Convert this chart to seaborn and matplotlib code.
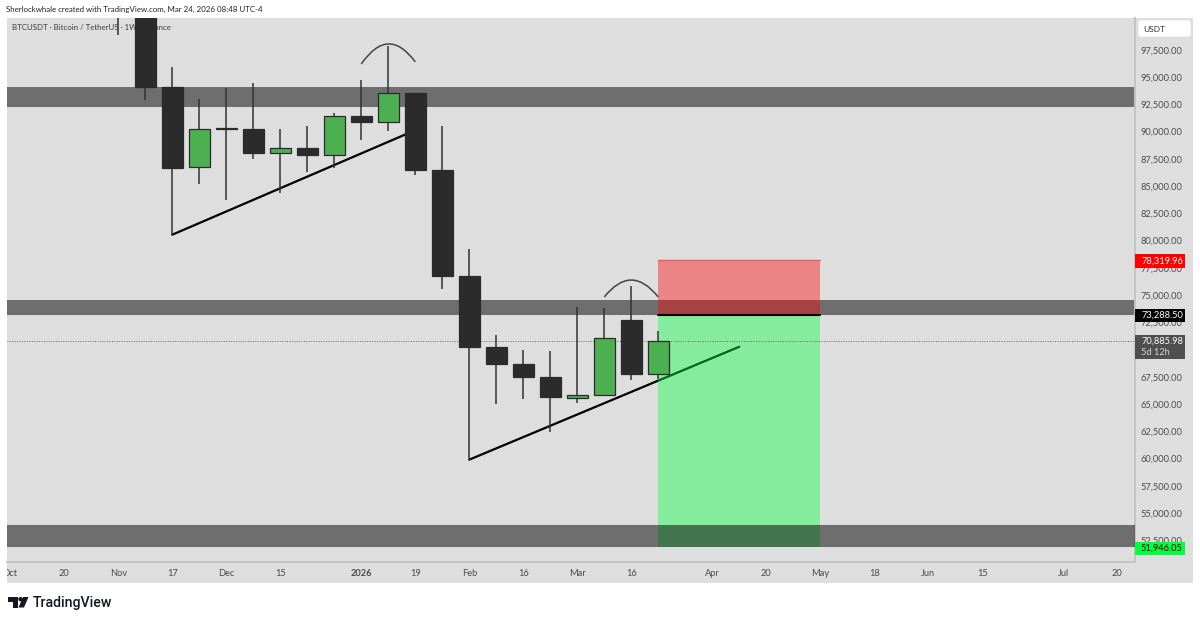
import matplotlib
matplotlib.use("Agg")
import matplotlib.pyplot as plt
from matplotlib.patches import PathPatch, Rectangle, FancyBboxPatch, Polygon
from matplotlib.path import Path
from matplotlib.transforms import Bbox
import numpy as np
import pandas as pd
import seaborn as sns

# ---- data ----
weeks  = [-1, 0, 1, 2, 3, 4, 5, 6, 7, 8, 9, 10, 11, 12, 13, 14, 15, 16, 17, 18, 19]
opens  = [110000, 102000, 94200, 86800, 90400, 90350, 88100, 88600, 87900, 91490, 91000, 93650, 86580, 76860, 70300, 68780, 67590, 65620, 65900, 72770, 67820]
closes = [102000, 94200, 86770, 90340, 90350, 88100, 88600, 87900, 91490, 90990, 93650, 86580, 76860, 70300, 68780, 67590, 65710, 65900, 71120, 67820, 70886]
highs  = [112000, 104000, 96030, 93100, 94100, 94560, 90350, 90620, 91810, 94840, 97910, 93650, 90620, 79310, 71440, 70070, 69980, 74010, 73920, 75940, 71810]
lows   = [98950, 93000, 80620, 85300, 83830, 87550, 84470, 86400, 86770, 89290, 90160, 86080, 75670, 59980, 65110, 65570, 62500, 65210, 65800, 67320, 67410]

bands = [(92360, 94200), (73288.5, 74610), (51946.05, 53970)]
trend_a_x = [1, 9.9]; trend_a_y = [80620, 90100]
trend_b_x = [12, 22]; trend_b_y = [59980, 70340]
arc_a_x = [8, 9, 10]; arc_a_y = [96280, 99865, 96470]
arc_b_x = [17, 18, 19]; arc_b_y = [74900, 78020, 74900]
box_x = [19, 25]
entry, stop, target = 73288.50, 78319.96, 51946.05
last_price = 70885.98

# 70,000 sits wholly behind the last-price tag in the reference, so it is not listed
y_ticks = [97500, 95000, 92500, 90000, 87500, 85000, 82500, 80000, 77500, 75000, 72500,
           67500, 65000, 62500, 60000, 57500, 55000, 52500]
x_ticks = [-5, -3, -1, 1, 3, 5, 8, 10, 12, 14, 16, 18, 21, 23, 25, 27, 29, 31, 34, 36]
x_labels = ["Oct", "20", "Nov", "17", "Dec", "15", "2026", "19", "Feb", "16", "Mar", "16",
            "Apr", "20", "May", "18", "Jun", "15", "Jul", "20"]

TEXT = "#4a4a4a"; BG = "#dedede"; DARK = "#2b2b2b"; GREEN = "#4caf50"
W, H = 1200, 622
sns.set_theme(style="white")
plt.rcParams["font.family"] = ["Lato", "DejaVu Sans"]

fig = plt.figure(figsize=(W / 100, H / 100), dpi=100, facecolor="white")
def fig_rect(l, t, r, b):
    return [l / W, 1 - b / H, (r - l) / W, (b - t) / H]

# grey frame of price and time scales
frame = fig.add_axes(fig_rect(7, 18, 1193, 583), zorder=0)
frame.set_facecolor(BG); frame.set_xticks([]); frame.set_yticks([])
for s in frame.spines.values():
    s.set_visible(False)

ax = fig.add_axes(fig_rect(7, 18, 1134.5, 562), zorder=1)
ax.set_facecolor(BG)

df = pd.DataFrame({"week": weeks, "o": opens, "c": closes, "h": highs, "l": lows})
df["body"] = (df.c - df.o).abs()
df["bottom"] = df[["o", "c"]].min(axis=1)
up = df[df.c >= df.o]; dn = df[df.c < df.o]

ax.vlines(df.week, df.l, df.h, color="#333333", lw=1.1, zorder=8)
for sub, col in ((dn, DARK), (up, GREEN)):
    sns.barplot(data=sub, x="week", y="body", bottom=sub["bottom"].values, native_scale=True,
                width=0.76, color=col, saturation=1, errorbar=None, ax=ax,
                edgecolor=DARK, linewidth=0.9, zorder=8.5)

ax.axhline(last_price, color="#666666", lw=0.7, ls=(0, (1, 1.5)), zorder=7.8)
sns.lineplot(x=trend_a_x, y=trend_a_y, color="black", lw=1.6, ax=ax, zorder=3.5, estimator=None)
sns.lineplot(x=trend_b_x, y=trend_b_y, color="black", lw=1.6, ax=ax, zorder=5, estimator=None)

for ax_x, ax_y in ((arc_a_x, arc_a_y), (arc_b_x, arc_b_y)):
    verts = list(zip(ax_x, ax_y))
    ax.add_patch(PathPatch(Path(verts, [Path.MOVETO, Path.CURVE3, Path.CURVE3]), fc="none",
                           ec="#444444", lw=1.1, zorder=9))

# position boxes and bands
ax.add_patch(Rectangle((box_x[0], target), box_x[1] - box_x[0], entry - target, fc="#00ff3c", alpha=0.4, lw=0, zorder=6))
for lo, hi in bands:
    ax.axhspan(lo, hi, fc="black", alpha=0.5, lw=0, zorder=6.5 if lo < 60000 else 2.5)
ax.add_patch(Rectangle((box_x[0], entry), box_x[1] - box_x[0], stop - entry, fc="#ff0000", alpha=0.4, lw=0, zorder=7))
ax.plot(box_x, [stop, stop], color="#f05a5a", lw=1, zorder=7.5)
ax.plot(box_x, [entry, entry], color="black", lw=1.5, zorder=7.5)

ax.text(11.5 / W, 1 - 27.5 / H, "BTCUSDT · Bitcoin / TetherUS · 1W · Binance", fontsize=5.65,
        color="#3c3c3c", va="center", ha="left", zorder=1, transform=fig.transFigure)

PX = 0.0109
ax.set_xlim(-5.122, 36.64)
ax.set_ylim(97500 - (562 - 50.7) / PX, 97500 + (50.7 - 18) / PX)
ax.set_xlabel(""); ax.set_ylabel("")

ax.yaxis.tick_right()
ax.set_yticks(y_ticks, [f"{v:,.2f}" for v in y_ticks])
ax.set_xticks(x_ticks, x_labels)
ax.tick_params(axis="y", length=0, pad=4.6, labelsize=6.7, labelcolor=TEXT)
ax.tick_params(axis="x", length=0, pad=8.2, labelsize=6.7, labelcolor=TEXT)
for t in ax.get_yticklabels():
    t.set_verticalalignment("center")
for s in ("top", "left"):
    ax.spines[s].set_visible(False)
for s in ("right", "bottom"):
    ax.spines[s].set_color("#c4c4c4"); ax.spines[s].set_linewidth(1.4)
for t in ax.get_xticklabels():
    t.set_verticalalignment("center")
    if t.get_text() == "2026":
        t.set_fontweight("bold")
    t.set_clip_box(Bbox([[7, 0], [W, H]])); t.set_clip_on(True)

# overlay layer in pixel coordinates
ov = fig.add_axes([0, 0, 1, 1], zorder=5)
ov.set_xlim(0, W); ov.set_ylim(H, 0); ov.axis("off"); ov.patch.set_alpha(0)

ov.add_patch(FancyBboxPatch((1139, 21), 51, 15, boxstyle="round,pad=0,rounding_size=2", fc="white", ec="white", lw=1))
ov.text(1143, 29, "USDT", fontsize=6.0, color="#333333", va="center", ha="left")

def price_tag(price, fc, tc, top, bottom, sub=None):
    ov.add_patch(Rectangle((1135, top), 50, bottom - top, fc=fc, lw=0))
    yy = (top + 7) if sub else (top + bottom) / 2
    ov.text(1141, yy, f"{price:,.2f}", fontsize=6.7, color=tc, va="center", ha="left")
    if sub:
        ov.text(1141, yy + 11, sub, fontsize=6.7, color="#d8d8d8", va="center", ha="left")

price_tag(stop, "#ff0000", "white", 254, 267.5)
price_tag(entry, "#000000", "white", 308.5, 322)
price_tag(last_price, "#4f4f4f", "white", 334.5, 359, "5d 12h")
price_tag(target, "#00ff3c", "black", 541.5, 555)

ov.text(6.5, 9.5, "Sherlockwhale created with TradingView.com, Mar 24, 2026 08:48 UTC-4", fontsize=5.65, color="#222222", va="center", ha="left")
ov.text(32.5, 602.5, "TradingView", fontsize=10.15, fontfamily="Roboto", fontweight="medium", color="#131722", va="center", ha="left")
ov.add_patch(Polygon([(8, 597), (17.5, 597), (17.5, 607.5), (12.5, 607.5), (12.5, 601.5), (8, 601.5)], fc="#131722", lw=0))
ov.add_patch(Polygon([(23, 597), (28.5, 597), (24, 607.5), (18.5, 607.5)], fc="#131722", lw=0))
ov.add_patch(plt.Circle((20.5, 599.2), 2.2, fc="#131722", lw=0))

fig.savefig("out.png", dpi=100)
